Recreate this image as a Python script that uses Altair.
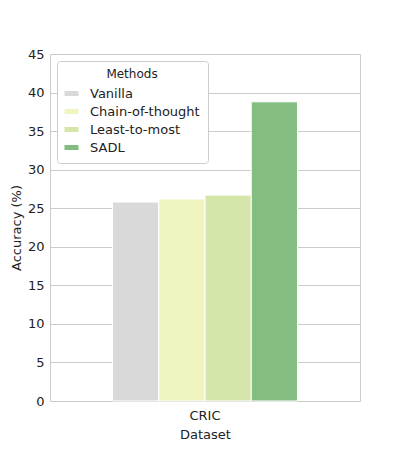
import altair as alt
import pandas as pd

methods = ["Vanilla", "Chain-of-thought", "Least-to-most", "SADL"]
accuracy = [25.8, 26.2, 26.7, 38.8]
colors = ["#d9d9d9", "#f0f4c0", "#d4e6aa", "#84bd82"]
dataset = ["CRIC"] * 4

df = pd.DataFrame({"Dataset": dataset, "Method": methods, "Accuracy": accuracy})

chart = alt.Chart(df).mark_bar(stroke="white", strokeWidth=1).encode(
    x=alt.X("Dataset:N", title="Dataset",
            scale=alt.Scale(paddingInner=0, paddingOuter=0.338),
            axis=alt.Axis(labelAngle=0, ticks=False, domain=False, grid=False,
                          labelPadding=8, titlePadding=6)),
    xOffset=alt.XOffset("Method:N", sort=methods, scale=alt.Scale(paddingInner=0)),
    y=alt.Y("Accuracy:Q", title="Accuracy (%)",
            scale=alt.Scale(domain=[0, 45]),
            axis=alt.Axis(values=list(range(0, 50, 5)), ticks=False, domain=False,
                          gridColor="#cccccc", labelPadding=6)),
    color=alt.Color("Method:N", sort=methods, title="Methods",
                    scale=alt.Scale(domain=methods, range=colors),
                    legend=alt.Legend(orient="none", legendX=7, legendY=7,
                                      strokeColor="#cccccc", fillColor="white",
                                      padding=8, cornerRadius=3,
                                      symbolType="M-1.4,-0.5H1.4V0.5H-1.4Z",
                                      symbolSize=100, symbolStrokeWidth=0,
                                      titleAnchor="middle", titleFontWeight="normal",
                                      titleFontSize=12, labelFontSize=13,
                                      labelOffset=12, rowPadding=4, titlePadding=6,
                                      labelLimit=300)),
).properties(width=310, height=347, padding={"left": 2, "top": 40, "right": 10, "bottom": 5}).configure_view(
    stroke="#cccccc"
).configure_axis(
    labelFont="DejaVu Sans", titleFont="DejaVu Sans", labelFontSize=13, titleFontSize=13,
    titleFontWeight="normal", labelColor="#222", titleColor="#222"
).configure_legend(labelFont="DejaVu Sans", titleFont="DejaVu Sans", labelColor="#222", titleColor="#222")

chart.save("out.html", embed_options={"renderer": "svg", "actions": False})
